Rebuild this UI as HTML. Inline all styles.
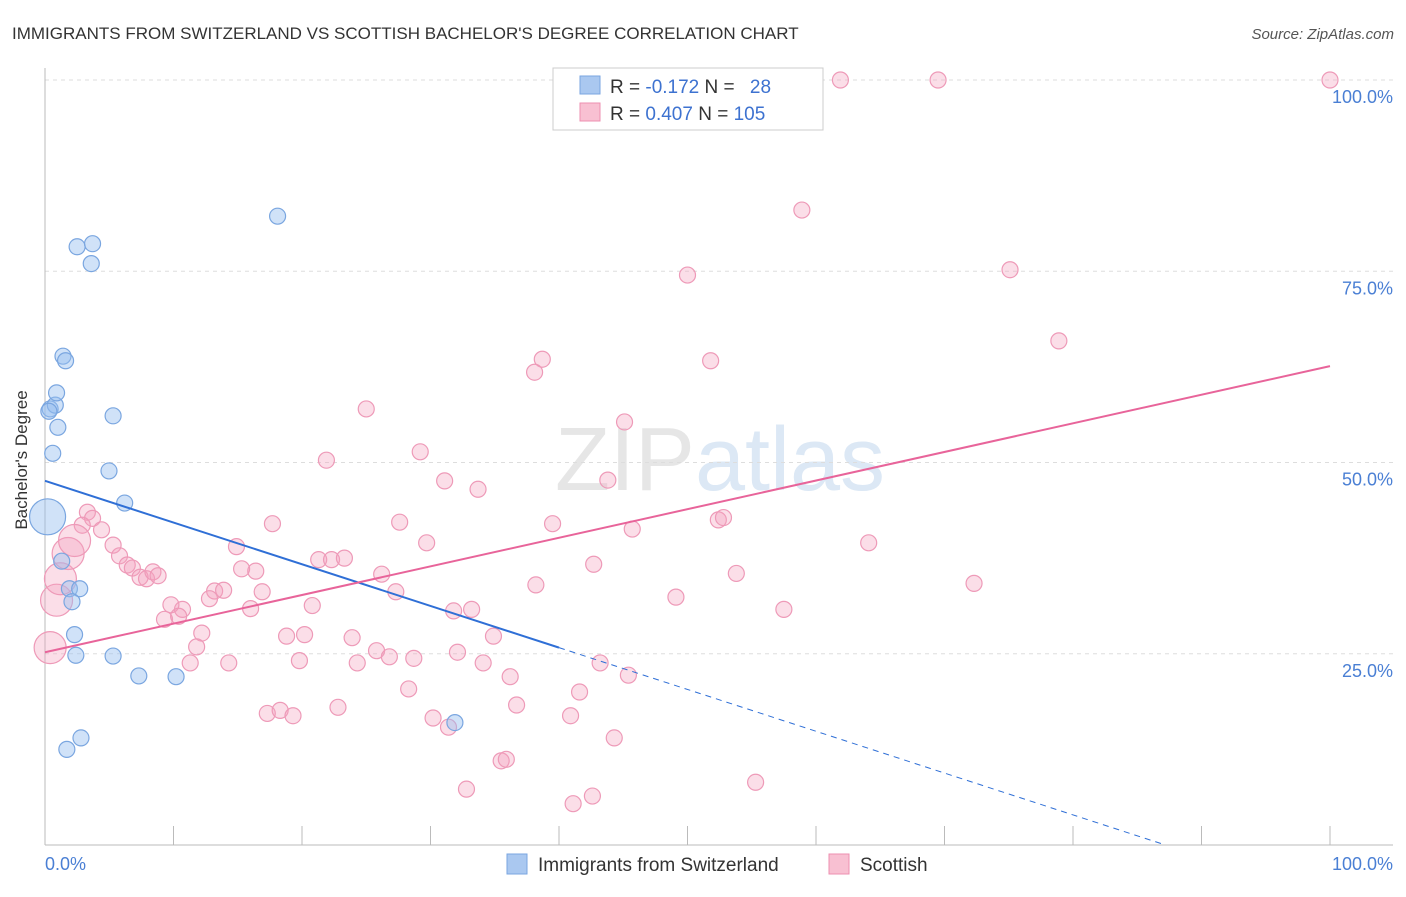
<!DOCTYPE html>
<html><head><meta charset="utf-8"><style>
body{margin:0;background:#fff;font-family:"Liberation Sans",sans-serif}
svg text{font-family:"Liberation Sans",sans-serif}
</style></head><body>
<svg width="1406" height="892">
<text x="12" y="39" font-size="17" fill="#333">IMMIGRANTS FROM SWITZERLAND VS SCOTTISH BACHELOR'S DEGREE CORRELATION CHART</text>
<text x="1394" y="39" font-size="15" fill="#555" font-style="italic" text-anchor="end">Source: ZipAtlas.com</text>
<text x="720" y="490" font-size="90" fill="#e6e6e6" text-anchor="middle" font-family="Liberation Serif">ZIP<tspan fill="#dce8f5" font-family="Liberation Sans">atlas</tspan></text>
<g id="grid"></g><g id="axes"></g><g id="pts"></g><g id="lines"></g>
<text x="27" y="460" font-size="17" fill="#333" transform="rotate(-90 27 460)" text-anchor="middle">Bachelor's Degree</text>
<text x="45" y="870" font-size="18" fill="#4a7fd4">0.0%</text>
<text x="1393" y="870" font-size="18" fill="#4a7fd4" text-anchor="end">100.0%</text>
<g>
<rect x="553" y="68" width="270" height="62" fill="#fff" stroke="#ccc"/>
<rect x="580" y="76" width="20" height="18" fill="#aac8f0" stroke="#7aa6e0"/>
<rect x="580" y="103" width="20" height="18" fill="#f8c0d2" stroke="#ee8fb0"/>
<text x="610" y="93" font-size="19" fill="#333">R = <tspan fill="#3d72d0">-0.172</tspan>   N = <tspan fill="#3d72d0" dx="10">28</tspan></text>
<text x="610" y="120" font-size="19" fill="#333">R = <tspan fill="#3d72d0">0.407</tspan>   N = <tspan fill="#3d72d0">105</tspan></text>
</g>
<g>
<rect x="507" y="854" width="20" height="20" fill="#aac8f0" stroke="#7aa6e0"/>
<text x="538" y="871" font-size="19" fill="#333">Immigrants from Switzerland</text>
<rect x="829" y="854" width="20" height="20" fill="#f8c0d2" stroke="#ee8fb0"/>
<text x="860" y="871" font-size="19" fill="#333">Scottish</text>
</g>
</svg>
<script>
const yTicks=[25,50,75,100];
const yTickLabels=["25.0%","50.0%","75.0%","100.0%"];
const blueX=[0.2,0.4,0.8,0.9,1.0,0.6,1.4,1.6,2.5,3.7,3.6,5.3,4.980,6.2,1.3,1.9,2.7,2.1,2.3,2.4,5.3,7.3,10.2,1.7,2.8,18.1,31.9,0.3];
const blueY=[42.9,57.0,57.5,59.1,54.6,51.2,63.9,63.3,78.2,78.6,76.0,56.1,48.9,44.7,37.1,33.5,33.5,31.8,27.5,24.8,24.7,22.1,22.0,12.5,14.0,82.2,16.0,56.7];
const blueR=[18,8,8,8,8,8,8,8,8,8,8,8,8,8,8,8,8,8,8,8,8,8,8,8,8,8,8,8];
const pinkX=[61.9,69.5,100,58.9,50.0,75.1,78.9,51.8,38.7,38.1,25.0,45.1,29.2,21.9,31.1,33.7,43.8,52.4,52.8,39.5,45.7,27.6,29.7,17.7,64.1,14.9,21.3,22.3,23.3,42.7,26.2,53.8,72.3,38.2,27.3,49.1,57.5,31.8,33.2,20.8,16.0,13.2,13.9,12.8,16.9,16.4,15.3,10.7,9.8,9.3,10.4,12.2,11.8,11.3,14.3,18.8,20.2,19.8,23.9,25.8,26.8,24.3,28.7,32.1,34.1,34.9,36.2,43.2,45.4,41.6,28.3,36.7,22.8,17.3,18.3,19.3,30.2,31.4,40.9,44.3,35.5,35.9,32.8,41.1,42.6,55.3,3.3,3.7,2.9,4.4,5.3,5.8,6.4,6.8,7.4,7.9,8.4,8.8,0.4,0.9,1.2,1.8,2.3];
const pinkY=[100,100,100,83.0,74.5,75.2,65.9,63.3,63.5,61.8,57.0,55.3,51.4,50.3,47.6,46.5,47.7,42.5,42.8,42.0,41.3,42.2,39.5,42.0,39.5,39.0,37.3,37.3,37.5,36.7,35.4,35.5,34.2,34.0,33.1,32.4,30.8,30.6,30.8,31.3,30.9,33.2,33.3,32.2,33.1,35.8,36.1,30.8,31.4,29.5,29.9,27.7,25.9,23.8,23.8,27.3,27.5,24.1,27.1,25.4,24.6,23.8,24.4,25.2,23.8,27.3,22.0,23.8,22.2,20.0,20.4,18.3,18.0,17.2,17.6,16.9,16.6,15.4,16.9,14.0,11.0,11.2,7.3,5.4,6.4,8.2,43.5,42.7,41.8,41.2,39.2,37.8,36.6,36.2,35.0,34.8,35.7,35.2,25.8,32.0,34.8,38.1,39.8];
const pinkR=[];for(let i=0;i<pinkX.length;i++)pinkR.push(i>=pinkX.length-5?16:8);
const blueLine=[[0,47.6],[40,25.8],[87.2,0]];
const pinkLine=[[0,25.2],[100,62.6]];
const X0=45,X1=1330,Y0=845,Y100=80;
const sx=v=>X0+(X1-X0)*v/100, sy=v=>Y0-(Y0-Y100)*v/100;
const NS="http://www.w3.org/2000/svg";
function mk(t,a,p){const e=document.createElementNS(NS,t);for(const k in a)e.setAttribute(k,a[k]);p.appendChild(e);return e;}
const grid=document.getElementById('grid'),axes=document.getElementById('axes'),pts=document.getElementById('pts'),lines=document.getElementById('lines');
yTicks.forEach((t,i)=>{const l=mk('line',{x1:45,x2:1393,y1:sy(t),y2:sy(t),stroke:'#ddd','stroke-dasharray':'4,4'},grid);


const tx=mk('text',{x:1393,y:sy(t)+23,'font-size':18,fill:'#4a7fd4','text-anchor':'end'},grid);tx.textContent=yTickLabels[i];

});
const xa=mk('line',{x1:45,x2:1393,y1:845,y2:845,stroke:'#bbb'},axes);


const ya=mk('line',{x1:45,x2:45,y1:68,y2:845,stroke:'#bbb'},axes);


for(let i=0;i<=10;i++){const tk=mk('line',{x1:sx(i*10),x2:sx(i*10),y1:826,y2:845,stroke:'#bbb'},axes);

}
pinkX.forEach((x,i)=>{const c=mk('circle',{cx:sx(x),cy:sy(pinkY[i]),r:pinkR[i],fill:'rgba(244,160,188,0.35)',stroke:'#ee9ab8','stroke-width':1.2},pts);

});
blueX.forEach((x,i)=>{const c=mk('circle',{cx:sx(x),cy:sy(blueY[i]),r:blueR[i],fill:'rgba(150,190,240,0.45)',stroke:'#7aa6e0','stroke-width':1.2},pts);

});
const bs=mk('line',{x1:sx(blueLine[0][0]),y1:sy(blueLine[0][1]),x2:sx(blueLine[1][0]),y2:sy(blueLine[1][1]),stroke:'#2f6fd6','stroke-width':2},lines);


const bd=mk('line',{x1:sx(blueLine[1][0]),y1:sy(blueLine[1][1]),x2:sx(blueLine[2][0]),y2:sy(blueLine[2][1]),stroke:'#2f6fd6','stroke-width':1,'stroke-dasharray':'6,5'},lines);


const pl=mk('line',{x1:sx(pinkLine[0][0]),y1:sy(pinkLine[0][1]),x2:sx(pinkLine[1][0]),y2:sy(pinkLine[1][1]),stroke:'#e8649a','stroke-width':2},lines);


</script>
</body></html>
